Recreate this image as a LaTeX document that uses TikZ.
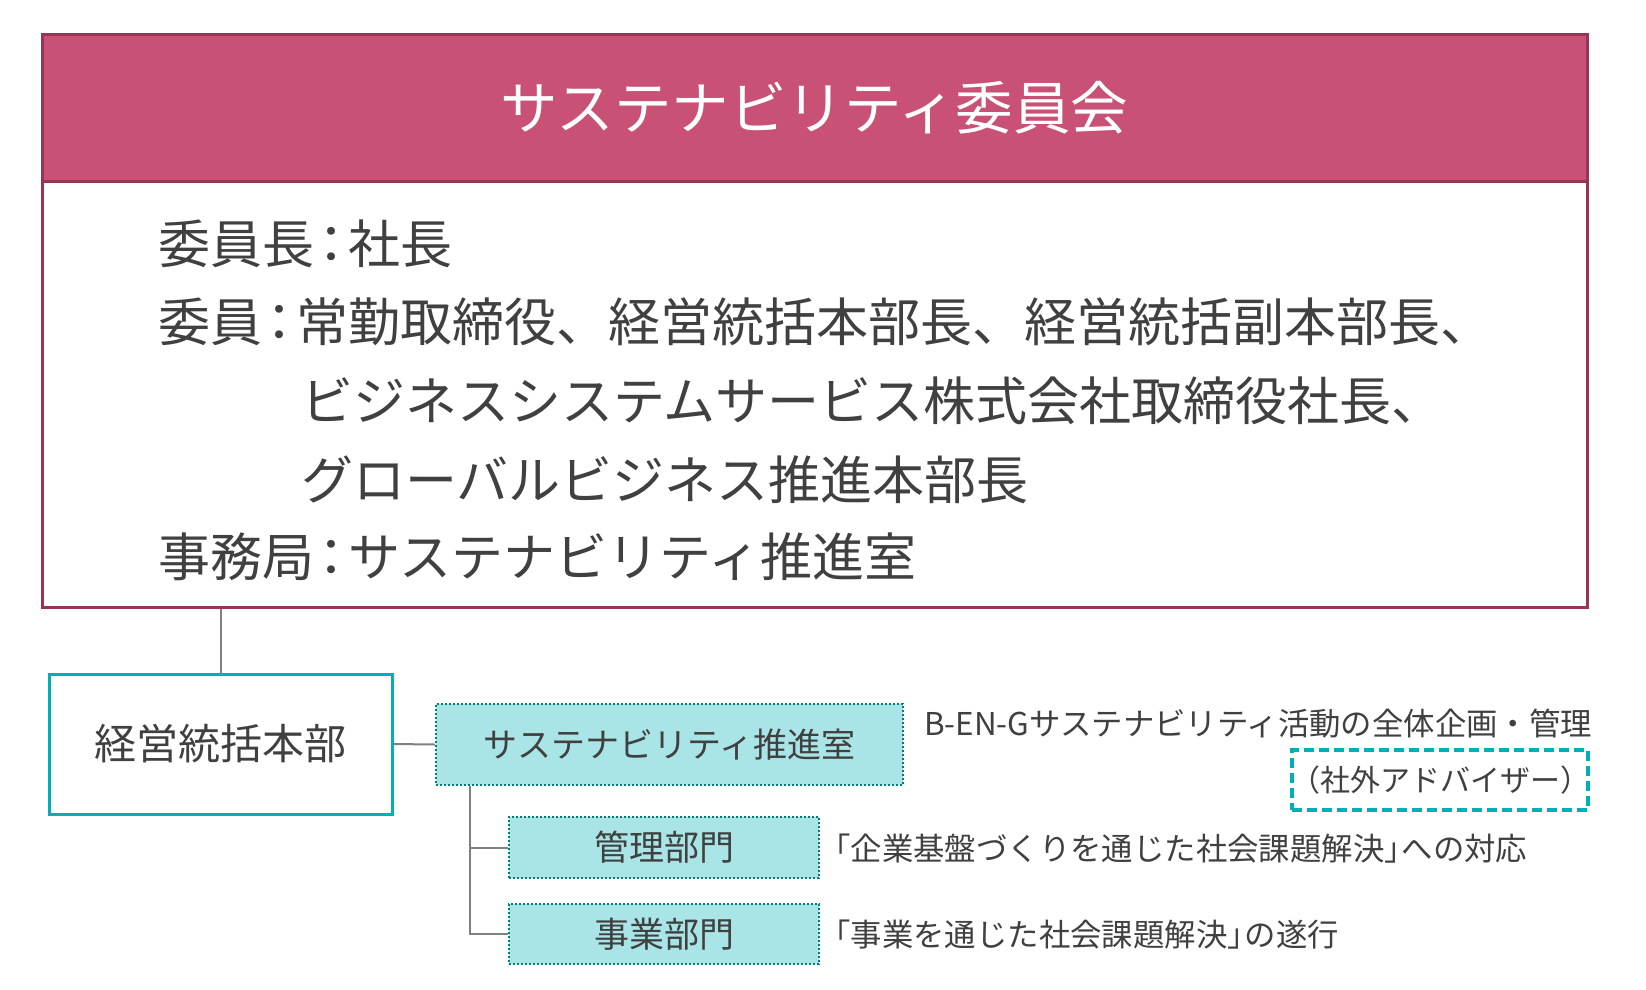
\documentclass[tikz,border=0pt]{standalone}
\usepackage{fontspec}
\setmainfont{Noto Sans CJK JP}
\definecolor{headfill}{HTML}{C85175}
\definecolor{headline}{HTML}{983456}
\definecolor{tealline}{HTML}{00B0B9}
\definecolor{dotline}{HTML}{007F80}
\definecolor{lightfill}{HTML}{A9E4E6}
\definecolor{conn}{HTML}{808080}
\definecolor{txtc}{HTML}{404040}
\newcommand\jcolon{\kern-0.17em：\kern-0.17em}
\newcommand\jclose{」\kern-0.45em}
\tikzset{
  txt/.style={text=txtc, inner sep=0pt, anchor=west},
  bodyline/.style={txt, font=\fontsize{52}{60}\selectfont},
  desc/.style={txt, font=\fontsize{31.4}{36}\selectfont},
  dotbox/.style={draw=dotline, fill=lightfill, line width=2.2pt, dash pattern=on 2.4pt off 1.6pt, inner sep=0pt, text=txtc},
  connector/.style={draw=conn, line width=2pt},
}
\begin{document}
\begin{tikzpicture}[x=1pt,y=-1pt]
\useasboundingbox (0,0) rectangle (1646,990);
\fill[white] (0,0) rectangle (1646,990);

% committee box
\node[draw=headline, fill=headfill, line width=3pt, minimum width=1545pt, minimum height=146pt, inner sep=0pt,
      text=white, font=\fontsize{57.5}{64}\selectfont] (head) at (814.5,108) {サステナビリティ委員会};
\node[draw=headline, fill=white, line width=3pt, minimum width=1545pt, minimum height=426pt, inner sep=0pt] (body) at (814.5,394) {};

\node[bodyline] (l1) at (158,244) {委員長\jcolon 社長};
\node[bodyline] (l2) at (158,322) {委員\jcolon 常勤取締役、経営統括本部長、経営統括副本部長、};
\node[bodyline] (l3) at (301,401) {ビジネスシステムサービス株式会社取締役社長、};
\node[bodyline] (l4) at (301,480) {グローバルビジネス推進本部長};
\node[bodyline] (l5) at (158,557) {事務局\jcolon サステナビリティ推進室};

% lower org
\node[draw=tealline, fill=white, line width=3pt, minimum width=343pt, minimum height=140pt, inner sep=0pt,
      text=txtc, font=\fontsize{42}{48}\selectfont] (kei) at (220.5,744) {経営統括本部};
\node[dotbox, minimum width=467pt, minimum height=81pt, font=\fontsize{34}{40}\selectfont] (sui) at (669.5,744.5) {サステナビリティ推進室};
\node[dotbox, minimum width=310pt, minimum height=61pt, font=\fontsize{35}{40}\selectfont] (kanri) at (664,847.5) {管理部門};
\node[dotbox, minimum width=310pt, minimum height=60pt, font=\fontsize{35}{40}\selectfont] (jigyo) at (664,934) {事業部門};

\draw[connector] (body.south -| kei.north) -- (kei.north);
\draw[connector] (kei.east) -- (sui.west);
\coordinate (vtop) at (470,786);
\draw[connector] (vtop) |- (kanri.west);
\draw[connector] (vtop) |- (jigyo.west);

% descriptions
\node[txt, font=\fontsize{31.4}{36}\selectfont] (d1) at (924,724) {B-EN-Gサステナビリティ活動の全体企画・管理};
\node[draw=tealline, line width=3.3pt, dash pattern=on 10pt off 5pt, minimum width=296pt, minimum height=60pt, inner sep=0pt,
      text=txtc, font=\fontsize{30}{36}\selectfont] (adv) at (1440,780) {\kern-0.3em（社外アドバイザー）\kern-0.3em};
\node[desc] (d2) at (819,849) {「企業基盤づくりを通じた社会課題解決\jclose への対応};
\node[desc] (d3) at (819,935) {「事業を通じた社会課題解決\jclose の遂行};
\end{tikzpicture}
\end{document}
